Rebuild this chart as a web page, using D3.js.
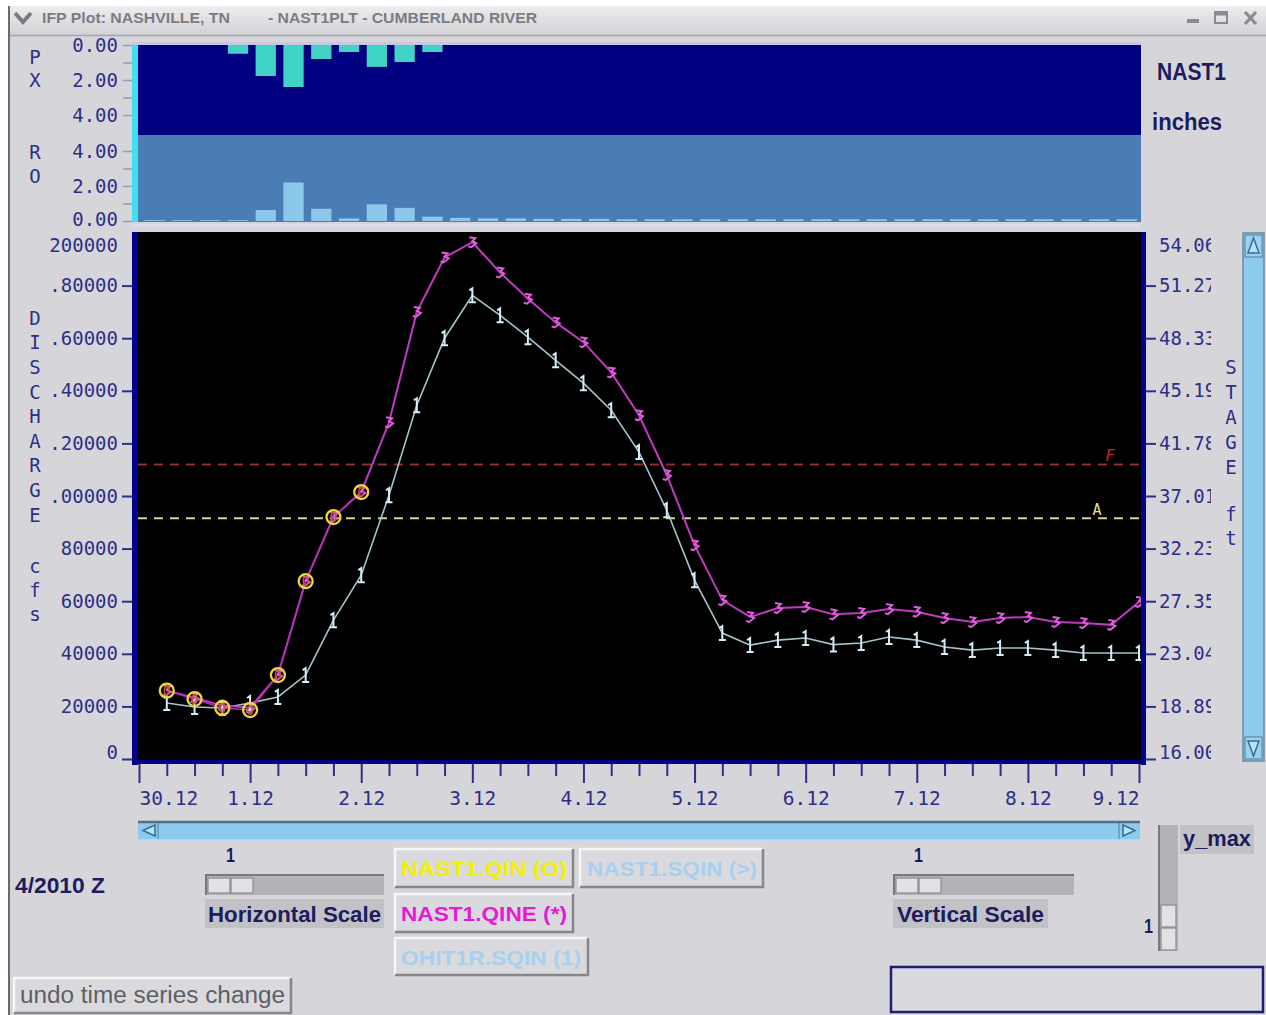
<!DOCTYPE html>
<html><head><meta charset="utf-8">
<script src="https://cdn.jsdelivr.net/npm/d3@7"></script>
<style>
html,body{margin:0;padding:0;background:#fff;overflow:hidden;}
svg{display:block;}
</style></head><body>
<svg id="c" width="1266" height="1015"></svg>
<script>
// ---------------- DATA ----------------
const dayHours = [0,24,48,72,96,120,144,168,192,216];
const dayLabels = ["30.12","1.12","2.12","3.12","4.12","5.12","6.12","7.12","8.12","9.12"];
const hours = [6,12,18,24,30,36,42,48,54,60,66,72,78,84,90,96,102,108,114,120,126,132,138,144,150,156,162,168,174,180,186,192,198,204,210,216];
const qinHours = [6,12,18,24,30,36,42,48];
const qinValues = [26000,22800,19400,18600,31900,67600,92000,101500];
const qineValues = [26000,23300,20300,19500,31900,67600,92000,101500,128000,170000,190700,196500,185000,175000,166000,158500,147000,130700,108000,81300,60400,54000,57400,57800,55000,55500,57000,56000,53600,52100,53600,54000,52100,51700,51000,59700];
const ohitValues = [21300,19800,19400,21300,23600,31900,52800,69900,100300,134500,160000,176300,168700,160400,151600,142900,132600,116700,94600,68000,47900,43300,45200,46000,43500,44100,46400,45200,42600,41400,42200,42200,41400,40300,40300,40300];
const pxHours = [24,30,36,42,48,54,60,66];
const pxValues = [0.5,1.77,2.4,0.8,0.4,1.25,0.97,0.4];
const roValues = [0.05,0.05,0.05,0.05,0.63,2.2,0.7,0.15,0.95,0.75,0.25,0.18,0.15,0.15,0.12,0.12,0.12,0.1,0.1,0.1,0.1,0.1,0.1,0.1,0.1,0.1,0.1,0.1,0.1,0.1,0.1,0.1,0.1,0.1,0.1,0.1];
const dischargeTicks = [200000,180000,160000,140000,120000,100000,80000,60000,40000,20000,0];
const dischargeLabels = ["200000",".80000",".60000",".40000",".20000",".00000","80000","60000","40000","20000","0"];
const stageLabels = ["54.06","51.27","48.33","45.19","41.78","37.01","32.23","27.35","23.04","18.89","16.00"];
const pxTicks = [0,1,2,3,4];
const pxLabelValues = [0,2,4];
const pxLabels = ["0.00","2.00","4.00"];
const roLabelValues = [4,2,0];
const roLabels = ["4.00","2.00","0.00"];
const floodStage = 112000;
const actionStage = 91500;

// ---------------- SETUP ----------------
const svg = d3.select('#c');
const NAVY = '#2e2e88';
const DNAVY = '#1c1c5e';
const BG = '#d6d6da';
const MONO = '"DejaVu Sans Mono","Liberation Mono",monospace';
const SANS = '"Liberation Sans",Arial,sans-serif';

const x = d3.scaleLinear().domain([0,216]).range([139,1139]);
const y = d3.scaleLinear().domain([0,200000]).range([759,233]);
const yPX = d3.scaleLinear().domain([0,4]).range([45,115]);
const yRO = d3.scaleLinear().domain([0,4]).range([221,151]);

const defs = svg.append('defs');
const g1 = defs.append('linearGradient').attr('id','tb').attr('x1',0).attr('y1',0).attr('x2',0).attr('y2',1);
g1.append('stop').attr('offset',0).attr('stop-color','#ededf0');
g1.append('stop').attr('offset',1).attr('stop-color','#d2d2d6');
defs.append('clipPath').attr('id','plotclip').append('rect').attr('x',138).attr('y',232).attr('width',1003).attr('height',528);
defs.append('clipPath').attr('id','rclip').append('rect').attr('x',1140).attr('y',200).attr('width',71).attr('height',600);

// background & window
svg.append('rect').attr('width',1266).attr('height',1015).attr('fill','#ffffff');
svg.append('rect').attr('x',9).attr('y',6).attr('width',1257).attr('height',1009).attr('fill',BG);
svg.append('rect').attr('x',9).attr('y',6).attr('width',1257).attr('height',29).attr('fill','url(#tb)');
svg.append('line').attr('x1',9).attr('x2',1266).attr('y1',35.5).attr('y2',35.5).attr('stroke','#a4a4aa').attr('stroke-width',1.5);
svg.append('line').attr('x1',9).attr('x2',9).attr('y1',6).attr('y2',1015).attr('stroke','#6a6a70').attr('stroke-width',2);

// title bar
svg.append('path').attr('d','M15,13 L23,22 L31,13').attr('fill','none').attr('stroke','#7a7a80').attr('stroke-width',4);
svg.append('text').attr('x',42).attr('y',23).attr('font-family',SANS).attr('font-weight','bold').attr('font-size',14)
  .attr('fill','#7c7c82').attr('textLength',188).attr('lengthAdjust','spacingAndGlyphs').text('IFP Plot:  NASHVILLE, TN');
svg.append('text').attr('x',268).attr('y',23).attr('font-family',SANS).attr('font-weight','bold').attr('font-size',14)
  .attr('fill','#7c7c82').attr('textLength',269).attr('lengthAdjust','spacingAndGlyphs').text('- NAST1PLT -  CUMBERLAND RIVER');
svg.append('rect').attr('x',1187).attr('y',19).attr('width',12).attr('height',4).attr('fill','#8a8a90');
svg.append('rect').attr('x',1215).attr('y',12).attr('width',12).attr('height',11).attr('fill','none').attr('stroke','#8a8a90').attr('stroke-width',2);
svg.append('line').attr('x1',1216).attr('x2',1226).attr('y1',14).attr('y2',14).attr('stroke','#8a8a90').attr('stroke-width',3);
svg.append('path').attr('d','M1245,12 L1256,24 M1256,12 L1245,24').attr('stroke','#8a8a90').attr('stroke-width',3.2);

// ---------------- PRECIP / RUNOFF PANEL ----------------
svg.append('rect').attr('x',132).attr('y',42).attr('width',1009).attr('height',3).attr('fill','#c8c8e0');
svg.append('rect').attr('x',138).attr('y',45).attr('width',1003).attr('height',90).attr('fill','#000080');
svg.append('rect').attr('x',138).attr('y',135).attr('width',1003).attr('height',87).attr('fill','#4a7db5');
svg.append('rect').attr('x',132).attr('y',45).attr('width',6).attr('height',177).attr('fill','#3fe0f2');
svg.append('rect').attr('x',132).attr('y',224).attr('width',1009).attr('height',3).attr('fill','#dcdcec');

svg.append('g').selectAll('rect').data(pxHours).join('rect')
  .attr('x',h=>x(h-6)+5.5).attr('width',h=>x(h)-x(h-6)-7.5)
  .attr('y',yPX(0)).attr('height',(h,i)=>yPX(pxValues[i])-yPX(0))
  .attr('fill','#3fd4c6');
svg.append('g').selectAll('rect').data(hours).join('rect')
  .attr('x',h=>x(h-6)+5.5).attr('width',h=>x(h)-x(h-6)-7.5)
  .attr('y',(h,i)=>yRO(roValues[i])).attr('height',(h,i)=>yRO(0)-yRO(roValues[i]))
  .attr('fill','#8cc8ec');

// panel axes
const pxAxis = svg.append('g').attr('transform','translate(132,0)')
  .call(d3.axisLeft(yPX).tickValues(pxTicks).tickSize(9).tickFormat(''));
const roAxis = svg.append('g').attr('transform','translate(132,0)')
  .call(d3.axisLeft(yRO).tickValues(pxTicks).tickSize(9).tickFormat(''));
[pxAxis,roAxis].forEach(a=>{a.select('.domain').remove(); a.selectAll('line').attr('stroke','#9a9ab4').attr('stroke-width',1.5);});
svg.append('g').selectAll('text').data(pxLabelValues).join('text')
  .attr('x',118).attr('y',d=>yPX(d)).attr('dy','0.36em').attr('text-anchor','end')
  .attr('font-family',MONO).attr('font-size',19).attr('fill',NAVY).text((d,i)=>pxLabels[i]);
svg.append('g').selectAll('text').data(roLabelValues).join('text')
  .attr('x',118).attr('y',d=>yRO(d)-(d===0?2:0)).attr('dy','0.36em').attr('text-anchor','end')
  .attr('font-family',MONO).attr('font-size',19).attr('fill',NAVY).text((d,i)=>roLabels[i]);
[['P',57],['X',80],['R',152],['O',176]].forEach(([t,yy])=>{
  svg.append('text').attr('x',35).attr('y',yy).attr('dy','0.36em').attr('text-anchor','middle')
    .attr('font-family',MONO).attr('font-size',19).attr('fill',NAVY).text(t);
});
svg.append('text').attr('x',1157).attr('y',80).attr('font-family',SANS).attr('font-weight','bold').attr('font-size',23)
  .attr('fill',DNAVY).attr('textLength',69).attr('lengthAdjust','spacingAndGlyphs').text('NAST1');
svg.append('text').attr('x',1152).attr('y',130).attr('font-family',SANS).attr('font-weight','bold').attr('font-size',23)
  .attr('fill',DNAVY).attr('textLength',70).attr('lengthAdjust','spacingAndGlyphs').text('inches');

// ---------------- MAIN PLOT ----------------
svg.append('rect').attr('x',138).attr('y',232).attr('width',1003).attr('height',528).attr('fill','#000');
svg.append('rect').attr('x',132).attr('y',232).attr('width',6).attr('height',533).attr('fill','#000088');
svg.append('rect').attr('x',1141).attr('y',232).attr('width',5).attr('height',533).attr('fill','#000088');
svg.append('rect').attr('x',132).attr('y',760).attr('width',1014).attr('height',4).attr('fill','#000088');

const plot = svg.append('g').attr('clip-path','url(#plotclip)');
plot.append('line').attr('x1',138).attr('x2',1141).attr('y1',y(floodStage)).attr('y2',y(floodStage))
  .attr('stroke','#8e2e2e').attr('stroke-width',2).attr('stroke-dasharray','9,7');
plot.append('line').attr('x1',138).attr('x2',1141).attr('y1',y(actionStage)).attr('y2',y(actionStage))
  .attr('stroke','#d2d28e').attr('stroke-width',2).attr('stroke-dasharray','9,7');
plot.append('text').attr('x',1110).attr('y',y(floodStage)-3).attr('font-family',MONO).attr('font-style','italic')
  .attr('font-size',16).attr('fill','#d42222').attr('text-anchor','middle').text('F');
plot.append('text').attr('x',1097).attr('y',y(actionStage)-3).attr('font-family',MONO)
  .attr('font-size',15).attr('fill','#e2e088').attr('text-anchor','middle').text('A');

const line = d3.line().x(d=>x(d[0])).y(d=>y(d[1]));
const ohitPts = hours.map((h,i)=>[h,ohitValues[i]]);
const qinePts = hours.map((h,i)=>[h,qineValues[i]]);
const qinPts = qinHours.map((h,i)=>[h,qinValues[i]]);

plot.append('path').datum(ohitPts).attr('d',line).attr('fill','none').attr('stroke','#a6c4cc').attr('stroke-width',1.6);
plot.append('path').datum(qinePts).attr('d',line).attr('fill','none').attr('stroke','#c03ac0').attr('stroke-width',2);
plot.append('path').datum(qinPts).attr('d',line).attr('fill','none').attr('stroke','#b030b0').attr('stroke-width',1.5);

plot.append('g').selectAll('path').data(ohitPts).join('path')
  .attr('transform',d=>`translate(${x(d[0])},${y(d[1])})`)
  .attr('d','M-3,-5 L0,-7 L0,7 M-3.5,7 L3.5,7').attr('fill','none').attr('stroke','#d4eef8').attr('stroke-width',2);
plot.append('g').selectAll('path').data(qinePts).join('path')
  .attr('transform',d=>`translate(${x(d[0])},${y(d[1])})`)
  .attr('d','M-3,-5 L3,-4 L0,-1 L4,1 L-1,5 L-4,4').attr('fill','none').attr('stroke','#e25ce2').attr('stroke-width',2);
const circ = plot.append('g').selectAll('g').data(qinPts).join('g')
  .attr('transform',d=>`translate(${x(d[0])},${y(d[1])})`);
circ.append('circle').attr('r',7).attr('fill','none').attr('stroke','#ecd83a').attr('stroke-width',2.3);
circ.append('ellipse').attr('rx',2.4).attr('ry',4.2).attr('fill','none').attr('stroke','#c2582a').attr('stroke-width',1.5);

// left axis
const la = svg.append('g').attr('transform','translate(132,0)')
  .call(d3.axisLeft(y).tickValues(dischargeTicks).tickSize(10).tickPadding(4).tickFormat((d,i)=>dischargeLabels[i]));
la.select('.domain').remove();
la.selectAll('line').attr('stroke',NAVY).attr('stroke-width',2);
la.selectAll('text').attr('font-family',MONO).attr('font-size',19).attr('fill',NAVY);
la.selectAll('.tick').filter(d=>d===200000).select('line').remove();
la.selectAll('.tick').filter(d=>d===200000).select('text').attr('dy','0.95em');
la.selectAll('.tick').filter(d=>d===0).select('text').attr('dy','-0.05em');

// right axis (labels clipped at the panel edge as in the original)
const raWrap = svg.append('g').attr('clip-path','url(#rclip)');
const ra = raWrap.append('g').attr('transform','translate(1146,0)')
  .call(d3.axisRight(y).tickValues(dischargeTicks).tickSize(10).tickPadding(3).tickFormat((d,i)=>stageLabels[i]));
ra.select('.domain').remove();
ra.selectAll('line').attr('stroke',NAVY).attr('stroke-width',2);
ra.selectAll('text').attr('font-family',MONO).attr('font-size',19).attr('fill',NAVY);
ra.selectAll('.tick').filter(d=>d===200000).select('line').remove();
ra.selectAll('.tick').filter(d=>d===200000).select('text').attr('dy','0.95em');
ra.selectAll('.tick').filter(d=>d===0).select('text').attr('dy','-0.05em');

// bottom axis
const minorHours = d3.range(6,216,6).filter(h=>h%24!==0);
const bmin = svg.append('g').attr('transform','translate(0,764)')
  .call(d3.axisBottom(x).tickValues(minorHours).tickSize(12).tickFormat(''));
bmin.select('.domain').remove();
bmin.selectAll('line').attr('stroke',NAVY).attr('stroke-width',2);
const bax = svg.append('g').attr('transform','translate(0,764)')
  .call(d3.axisBottom(x).tickValues(dayHours).tickSize(19).tickPadding(8).tickFormat((d,i)=>dayLabels[i]));
bax.select('.domain').remove();
bax.selectAll('line').attr('stroke',NAVY).attr('stroke-width',2);
bax.selectAll('text').attr('font-family',MONO).attr('font-size',19.5).attr('fill',NAVY)
  .attr('text-anchor',(d,i)=>i===0?'start':(i===dayHours.length-1?'end':'middle'));

// axis titles
'DISCHARGE'.split('').forEach((c,i)=>{
  svg.append('text').attr('x',35).attr('y',318+i*24.6).attr('dy','0.36em').attr('text-anchor','middle')
    .attr('font-family',MONO).attr('font-size',19).attr('fill',NAVY).text(c);
});
'cfs'.split('').forEach((c,i)=>{
  svg.append('text').attr('x',35).attr('y',566+i*24).attr('dy','0.36em').attr('text-anchor','middle')
    .attr('font-family',MONO).attr('font-size',19).attr('fill',NAVY).text(c);
});
'STAGE'.split('').forEach((c,i)=>{
  svg.append('text').attr('x',1231).attr('y',367+i*25).attr('dy','0.36em').attr('text-anchor','middle')
    .attr('font-family',MONO).attr('font-size',19).attr('fill',NAVY).text(c);
});
'ft'.split('').forEach((c,i)=>{
  svg.append('text').attr('x',1231).attr('y',514+i*24).attr('dy','0.36em').attr('text-anchor','middle')
    .attr('font-family',MONO).attr('font-size',19).attr('fill',NAVY).text(c);
});

// ---------------- SCROLLBARS ----------------
svg.append('rect').attr('x',1243).attr('y',233).attr('width',21).attr('height',528).attr('fill','#8ccaee').attr('stroke','#6a8aa0').attr('stroke-width',1.5);
svg.append('rect').attr('x',1245).attr('y',235).attr('width',17).attr('height',22).attr('fill','#9ad2f2').attr('stroke','#5a7a94').attr('stroke-width',1);
svg.append('path').attr('d','M1253.5,238 L1248,253 L1259,253 Z').attr('fill','#b8e2f6').attr('stroke','#3a6a90').attr('stroke-width',1.5);
svg.append('rect').attr('x',1245).attr('y',737).attr('width',17).attr('height',22).attr('fill','#9ad2f2').attr('stroke','#5a7a94').attr('stroke-width',1);
svg.append('path').attr('d','M1253.5,756 L1248,741 L1259,741 Z').attr('fill','#b8e2f6').attr('stroke','#3a6a90').attr('stroke-width',1.5);
svg.append('rect').attr('x',138).attr('y',821).attr('width',1002).attr('height',19).attr('fill','#8ccaee');
svg.append('line').attr('x1',138).attr('x2',1140).attr('y1',822).attr('y2',822).attr('stroke','#4e7088').attr('stroke-width',2.5);
svg.append('line').attr('x1',138).attr('x2',1140).attr('y1',840).attr('y2',840).attr('stroke','#b8def2').attr('stroke-width',1.5);
svg.append('path').attr('d','M155,825 L143,830.5 L155,836 Z').attr('fill','#b8e2f6').attr('stroke','#3a6a90').attr('stroke-width',1.5);
svg.append('line').attr('x1',158).attr('x2',158).attr('y1',823).attr('y2',839).attr('stroke','#5a7a94');
svg.append('path').attr('d','M1123,825 L1135,830.5 L1123,836 Z').attr('fill','#b8e2f6').attr('stroke','#3a6a90').attr('stroke-width',1.5);
svg.append('line').attr('x1',1119).attr('x2',1119).attr('y1',823).attr('y2',839).attr('stroke','#5a7a94');

// ---------------- CONTROLS ----------------
function label(txt,x0,y0,len,size,color,weight){
  return svg.append('text').attr('x',x0).attr('y',y0).attr('font-family',SANS).attr('font-weight',weight||'bold')
    .attr('font-size',size).attr('fill',color).attr('textLength',len).attr('lengthAdjust','spacingAndGlyphs').text(txt);
}
function button(x0,y0,w,h){
  svg.append('rect').attr('x',x0).attr('y',y0).attr('width',w).attr('height',h).attr('fill','#dadade');
  svg.append('path').attr('d',`M${x0},${y0+h} L${x0},${y0} L${x0+w},${y0}`).attr('fill','none').attr('stroke','#f6f6f8').attr('stroke-width',2.5);
  svg.append('path').attr('d',`M${x0},${y0+h} L${x0+w},${y0+h} L${x0+w},${y0}`).attr('fill','none').attr('stroke','#86868c').attr('stroke-width',2.5);
}
function slider(x0,y0,w){
  svg.append('rect').attr('x',x0).attr('y',y0).attr('width',w).attr('height',21).attr('fill','#b4b4b8');
  svg.append('line').attr('x1',x0).attr('x2',x0+w).attr('y1',y0+1).attr('y2',y0+1).attr('stroke','#78787e').attr('stroke-width',2);
  svg.append('line').attr('x1',x0+1).attr('x2',x0+1).attr('y1',y0).attr('y2',y0+21).attr('stroke','#78787e').attr('stroke-width',2);
  [0,23].forEach(o=>{
    svg.append('rect').attr('x',x0+3+o).attr('y',y0+4).attr('width',22).attr('height',15).attr('fill','#e2e2e4').attr('stroke','#8a8a90').attr('stroke-width',1.2);
  });
}

label('4/2010 Z',15,893,90,22,DNAVY);
label('1',226,862,9,21,DNAVY);
slider(205,874,179);
svg.append('rect').attr('x',205).attr('y',899).attr('width',179).attr('height',29).attr('fill','#c2c2c6');
label('Horizontal Scale',208,922,173,22,DNAVY);

button(395,849,178,38);
label('NAST1.QIN  (O)',401,876,166,21,'#f2f000');
button(580,849,183,38);
label('NAST1.SQIN (>)',587,876,170,21,'#a6d0ee');
button(395,894,178,38);
label('NAST1.QINE (*)',401,921,166,21,'#e21cd6');
button(395,938,193,37);
label('OHIT1R.SQIN (1)',401,965,180,21,'#a6d0ee');

label('1',914,862,9,21,DNAVY);
slider(893,874,181);
svg.append('rect').attr('x',893).attr('y',899).attr('width',155).attr('height',29).attr('fill','#c2c2c6');
label('Vertical Scale',897,922,147,22,DNAVY);

svg.append('rect').attr('x',1158).attr('y',825).attr('width',20).attr('height',126).attr('fill','#b4b4b8');
svg.append('line').attr('x1',1159).attr('x2',1159).attr('y1',825).attr('y2',951).attr('stroke','#78787e').attr('stroke-width',2);
[905,928].forEach(yy=>{
  svg.append('rect').attr('x',1161).attr('y',yy).attr('width',15).attr('height',22).attr('fill','#e2e2e4').attr('stroke','#8a8a90').attr('stroke-width',1.2);
});
svg.append('rect').attr('x',1180).attr('y',825).attr('width',74).attr('height',29).attr('fill','#c2c2c6');
label('y_max',1183,846,68,22,DNAVY);
label('1',1144,933,9,21,DNAVY);

svg.append('rect').attr('x',891).attr('y',967).attr('width',372).attr('height',45).attr('fill','#dadade').attr('stroke','#1e1e78').attr('stroke-width',2.5);

button(14,978,277,35);
label('undo time series change',20,1003,265,23,'#5e5e64','normal');
</script>
</body></html>
